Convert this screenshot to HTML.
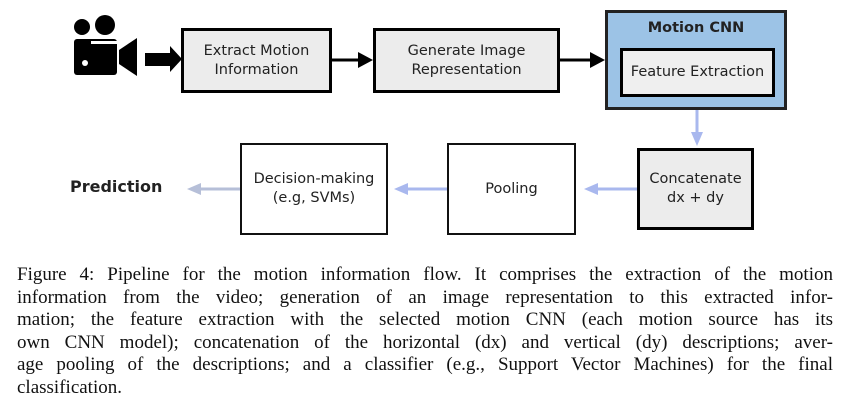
<!DOCTYPE html>
<html><head><style>
body{margin:0;width:852px;height:406px;background:#fff;position:relative;overflow:hidden;font-family:"DejaVu Sans","Liberation Sans",sans-serif}
.b{position:absolute;box-sizing:border-box;display:flex;align-items:center;justify-content:center;text-align:center;font-size:14.5px;color:#222;line-height:19px}
.cap{position:absolute;left:17px;width:816px;font-family:"Liberation Serif",serif;font-size:19px;color:#111}
.cap div{height:22.6px;line-height:22.6px;text-align:justify;text-align-last:justify;white-space:nowrap}
.cap div.l{text-align-last:left}
</style></head><body>
<svg width="852" height="260" style="position:absolute;left:0;top:0">
<circle cx="82" cy="27" r="8"/><circle cx="105" cy="25" r="10"/>
<rect x="74" y="39" width="43" height="36" rx="3"/>
<rect x="91" y="41" width="26" height="3" fill="#fff"/>
<circle cx="85" cy="63" r="3" fill="#fff"/>
<polygon points="119,50 137,38 137,76 119,64"/>
<rect x="145" y="53" width="26" height="13"/><polygon points="170,46 182,59 170,72"/>
<line x1="332" y1="60" x2="360" y2="60" stroke="#000" stroke-width="3"/><polygon points="358,52 373,60 358,68"/>
<line x1="560" y1="60" x2="592" y2="60" stroke="#000" stroke-width="3"/><polygon points="590,52 605,60 590,68"/>
<line x1="697" y1="110" x2="697" y2="140" stroke="#a9b8ee" stroke-width="3"/><polygon points="691,132 703,132 697,146" fill="#a9b8ee"/>
<line x1="637" y1="189" x2="595" y2="189" stroke="#a9b8ee" stroke-width="3"/><polygon points="598,183 598,195 584,189" fill="#a9b8ee"/>
<line x1="447" y1="189" x2="405" y2="189" stroke="#a9b8ee" stroke-width="3"/><polygon points="408,183 408,195 394,189" fill="#a9b8ee"/>
<line x1="240" y1="189" x2="198" y2="189" stroke="#b6bfd8" stroke-width="3"/><polygon points="201,183 201,195 187,189" fill="#b6bfd8"/>
</svg>
<div class="b" style="left:181px;top:28px;width:151px;height:65px;border:3px solid #000;background:#ececec">Extract Motion<br>Information</div>
<div class="b" style="left:373px;top:28px;width:187px;height:65px;border:3px solid #000;background:#ececec">Generate Image<br>Representation</div>
<div class="b" style="left:605px;top:10px;width:182px;height:100px;border:3px solid #222;background:#9cc3e6;align-items:flex-start;padding-top:6px;font-weight:bold">Motion CNN</div>
<div class="b" style="left:620px;top:48px;width:155px;height:49px;border:3px solid #000;background:#efefef">Feature Extraction</div>
<div class="b" style="left:637px;top:148px;width:117px;height:82px;border:3px solid #000;background:#ececec">Concatenate<br>dx + dy</div>
<div class="b" style="left:447px;top:143px;width:129px;height:92px;border:2px solid #111;background:#fff">Pooling</div>
<div class="b" style="left:240px;top:143px;width:148px;height:92px;border:2px solid #111;background:#fff">Decision-making<br>(e.g, SVMs)</div>
<div class="b" style="left:70px;top:175px;width:100px;height:22px;justify-content:flex-start;font-weight:bold;font-size:16px">Prediction</div>
<div class="cap" style="top:264px">
<div>Figure 4: Pipeline for the motion information flow. It comprises the extraction of the motion</div>
<div>information from the video; generation of an image representation to this extracted infor-</div>
<div>mation; the feature extraction with the selected motion CNN (each motion source has its</div>
<div>own CNN model); concatenation of the horizontal (dx) and vertical (dy) descriptions; aver-</div>
<div>age pooling of the descriptions; and a classifier (e.g., Support Vector Machines) for the final</div>
<div class="l">classification.</div>
</div>
</body></html>
